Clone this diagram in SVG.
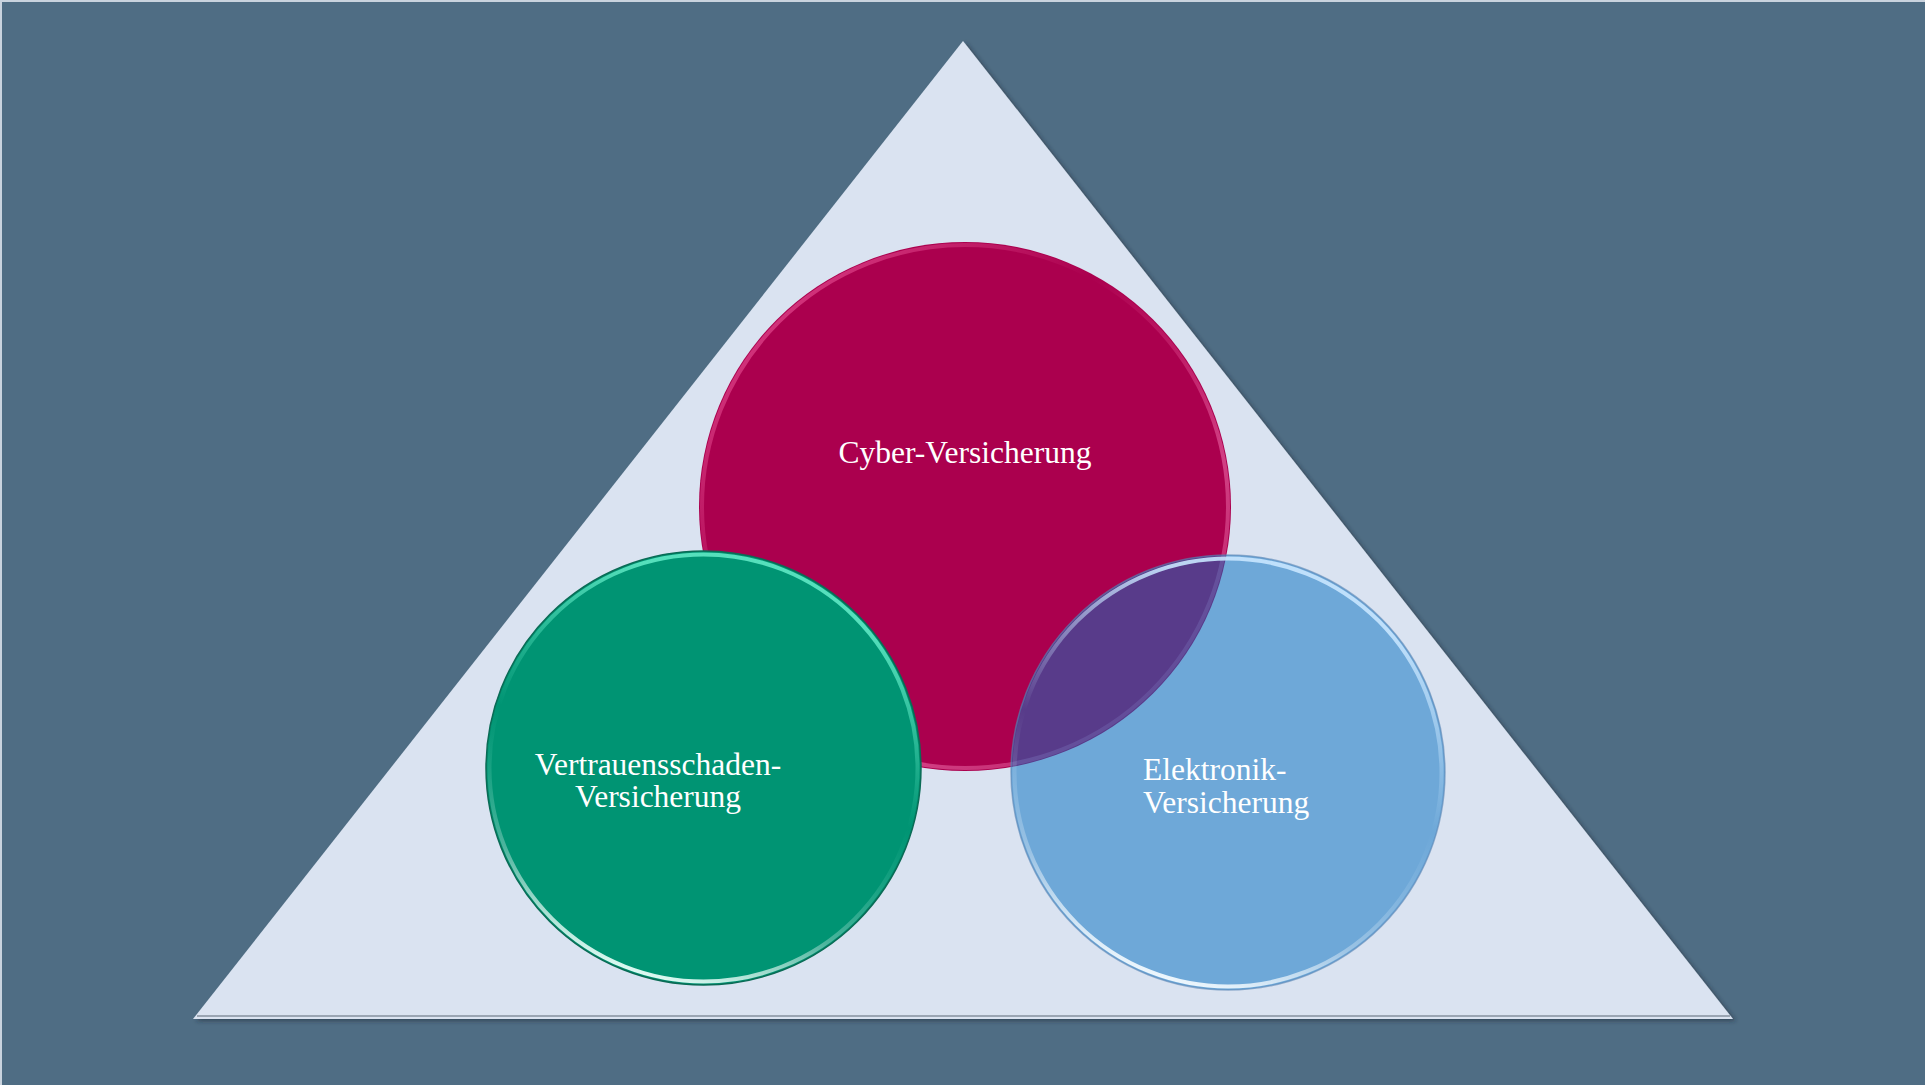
<svg xmlns="http://www.w3.org/2000/svg" width="1925" height="1085" viewBox="0 0 1925 1085">
  <style>
    .lbl { font-family: "Liberation Serif", "Times New Roman", serif; font-size: 31.5px; fill: #ffffff; }
    .rim { fill: none; stroke-width: 4; }
  </style>
  <defs>
    <filter id="triShadow" x="-5%" y="-5%" width="110%" height="110%">
      <feDropShadow dx="3" dy="2" stdDeviation="2" flood-color="#1e2a36" flood-opacity="0.55"/>
    </filter>
    <linearGradient id="rimPink" x1="0" y1="0" x2="1" y2="1">
      <stop offset="0" stop-color="#ff6fb0" stop-opacity="0.7"/>
      <stop offset="0.4" stop-color="#ff6fb0" stop-opacity="0"/>
      <stop offset="0.7" stop-color="#ff8cc4" stop-opacity="0.45"/>
      <stop offset="1" stop-color="#ff8cc4" stop-opacity="0.1"/>
    </linearGradient>
    <linearGradient id="rimGreen" x1="0.3" y1="0" x2="0" y2="1">
      <stop offset="0" stop-color="#5fe8c4" stop-opacity="0.9"/>
      <stop offset="0.4" stop-color="#5fe8c4" stop-opacity="0"/>
      <stop offset="0.7" stop-color="#ffffff" stop-opacity="0.3"/>
      <stop offset="0.9" stop-color="#e6fff8" stop-opacity="1"/>
      <stop offset="1" stop-color="#b8fff0" stop-opacity="0.8"/>
    </linearGradient>
    <linearGradient id="rimBlue" x1="0.3" y1="0" x2="0" y2="1">
      <stop offset="0" stop-color="#c8e6ff" stop-opacity="0.9"/>
      <stop offset="0.4" stop-color="#c8e6ff" stop-opacity="0"/>
      <stop offset="0.7" stop-color="#ffffff" stop-opacity="0.3"/>
      <stop offset="0.9" stop-color="#f2faff" stop-opacity="1"/>
      <stop offset="1" stop-color="#d8efff" stop-opacity="0.8"/>
    </linearGradient>
  </defs>

  <rect x="0" y="0" width="1925" height="1085" fill="#4f6d84"/>
  <path d="M0,1 H1925 M1,0 V1085" stroke="#c9d3de" stroke-width="2" fill="none"/>

  <g id="triangle">
    <polygon points="963,41 1733,1019 193,1019" fill="#dae3f1" filter="url(#triShadow)"/>
    <line x1="197" y1="1016" x2="1730" y2="1016" stroke="#9aa5b3" stroke-width="2"/>
  </g>

  <g id="connectors"></g>

  <g id="node-cyber">
    <ellipse cx="965" cy="506.5" rx="266" ry="264.5" fill="#ab004e"/>
    <ellipse cx="965" cy="506.5" rx="263" ry="261.5" class="rim" stroke="url(#rimPink)"/>
    <text class="lbl" x="965" y="463" text-anchor="middle">Cyber-Versicherung</text>
  </g>

  <g id="node-vertrauen">
    <ellipse cx="703.5" cy="768" rx="217.5" ry="217" fill="#009473" stroke="#0a6b55" stroke-width="1.5"/>
    <ellipse cx="703.5" cy="768" rx="214" ry="213.5" class="rim" stroke="url(#rimGreen)"/>
    <text class="lbl" x="658" y="775" text-anchor="middle">Vertrauensschaden-</text>
    <text class="lbl" x="658" y="807" text-anchor="middle">Versicherung</text>
  </g>

  <g id="node-elektronik">
    <ellipse cx="1228" cy="772.5" rx="217" ry="217.5" fill="#0c71c1" fill-opacity="0.52" stroke="#5a86b4" stroke-opacity="0.6" stroke-width="1.5"/>
    <ellipse cx="1228" cy="772.5" rx="213.5" ry="214" class="rim" stroke="url(#rimBlue)"/>
    <text class="lbl" x="1143" y="780">Elektronik-</text>
    <text class="lbl" x="1143" y="813">Versicherung</text>
  </g>
</svg>
